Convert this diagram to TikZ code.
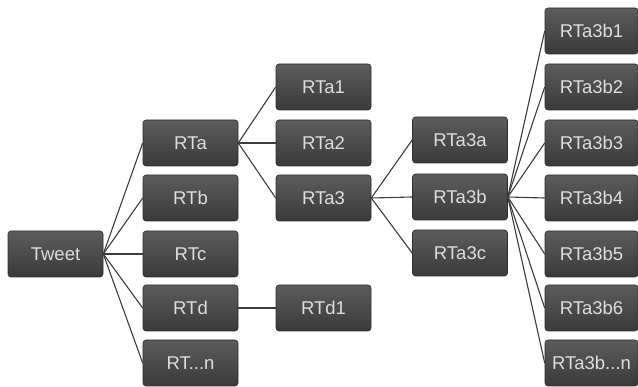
\documentclass[tikz,border=0pt]{standalone}
\usepackage{fontspec}
\setmainfont{Liberation Sans}
\begin{document}
\begin{tikzpicture}[x=1pt,y=-1pt,
  box/.style={rectangle, rounded corners=3pt, draw={rgb,255:red,45;green,45;blue,45}, line width=0.6pt,
    top color={rgb,255:red,92;green,92;blue,92}, bottom color={rgb,255:red,58;green,58;blue,58},
    text={rgb,255:red,222;green,222;blue,222}, font=\fontsize{18.5}{19}\selectfont,
    minimum width=95pt, minimum height=46pt, inner sep=0pt},
  rbox/.style={box, minimum width=93pt},
  link/.style={draw={rgb,255:red,60;green,60;blue,60}, line width=1.1pt}]
\useasboundingbox (0,0) rectangle (638,387);
\node[box] (tweet) at (55.5,254) {Tweet};
\node[box] (rta) at (190.5,143) {RTa};
\node[box] (rtb) at (190.5,198) {RTb};
\node[box] (rtc) at (190.5,254) {RTc};
\node[box] (rtd) at (190.5,308) {RTd};
\node[box] (rtn) at (190.5,363) {RT...n};
\node[box] (rta1) at (323.5,87) {RTa1};
\node[box] (rta2) at (323.5,143) {RTa2};
\node[box] (rta3) at (323.5,198) {RTa3};
\node[box] (rtd1) at (323.5,308) {RTd1};
\node[box] (rta3a) at (460,140) {RTa3a};
\node[box] (rta3b) at (460,197) {RTa3b};
\node[box] (rta3c) at (460,253) {RTa3c};
\node[rbox] (b1) at (591.5,31) {RTa3b1};
\node[rbox] (b2) at (591.5,87) {RTa3b2};
\node[rbox] (b3) at (591.5,143) {RTa3b3};
\node[rbox] (b4) at (591.5,198) {RTa3b4};
\node[rbox] (b5) at (591.5,254) {RTa3b5};
\node[rbox] (b6) at (591.5,308) {RTa3b6};
\node[rbox] (bn) at (591.5,363) {RTa3b...n};
\foreach \c in {rta,rtb,rtc,rtd,rtn} \draw[link] (tweet.east) -- (\c.west);
\foreach \c in {rta1,rta2,rta3} \draw[link] (rta.east) -- (\c.west);
\draw[link] (rtd.east) -- (rtd1.west);
\foreach \c in {rta3a,rta3b,rta3c} \draw[link] (rta3.east) -- (\c.west);
\foreach \c in {b1,b2,b3,b4,b5,b6,bn} \draw[link] (rta3b.east) -- (\c.west);
\end{tikzpicture}
\end{document}
